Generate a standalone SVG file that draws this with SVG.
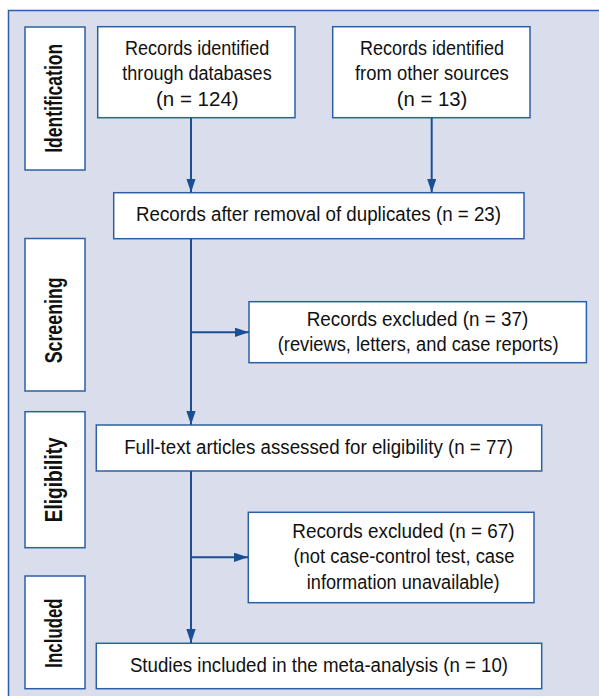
<svg xmlns="http://www.w3.org/2000/svg" width="599" height="696" viewBox="0 0 599 696">
<defs>
<style>
.bg{fill:#dadeec;stroke:#2c5fa5;stroke-width:1.5}
.box{fill:#ffffff;stroke:#2c5fa5;stroke-width:1.5}
.t{font-family:"Liberation Sans",Arial,sans-serif;font-size:20px;fill:#111;text-anchor:middle}
.s{font-family:"Liberation Sans",Arial,sans-serif;font-size:23px;font-weight:bold;fill:#111;text-anchor:middle}
.c{fill:none;stroke:#1b4f94;stroke-width:2}
</style>
<marker id="ah" markerUnits="userSpaceOnUse" markerWidth="14" markerHeight="10" refX="14" refY="4.7" orient="auto">
<path d="M0,0 L14,4.7 L0,9.4 Z" fill="#1b4f94"/>
</marker>
</defs>
<rect class="bg" x="8.5" y="10.5" width="620" height="720"/>
<g id="stage-identification">
<rect class="box" x="25" y="27" width="60" height="143"/>
<text class="s" transform="translate(62,98.3) rotate(-90)" textLength="109" lengthAdjust="spacingAndGlyphs">Identification</text>
</g>
<g id="stage-screening">
<rect class="box" x="25" y="238.5" width="60" height="152.5"/>
<text class="s" transform="translate(62,320.3) rotate(-90)" textLength="86" lengthAdjust="spacingAndGlyphs">Screening</text>
</g>
<g id="stage-eligibility">
<rect class="box" x="25" y="411.7" width="60" height="136"/>
<text class="s" transform="translate(62,479.8) rotate(-90)" textLength="85" lengthAdjust="spacingAndGlyphs">Eligibility</text>
</g>
<g id="stage-included">
<rect class="box" x="25" y="576" width="60" height="112.7"/>
<text class="s" transform="translate(62,633) rotate(-90)" textLength="69.3" lengthAdjust="spacingAndGlyphs">Included</text>
</g>
<g id="n-databases">
<rect class="box" x="97.7" y="26.7" width="197.3" height="91"/>
<text class="t" x="197.2" y="54.5" textLength="144.3" lengthAdjust="spacingAndGlyphs">Records identified</text>
<text class="t" x="197" y="80" textLength="149.3" lengthAdjust="spacingAndGlyphs">through databases</text>
<text class="t" x="197.3" y="105.5" textLength="82.7" lengthAdjust="spacingAndGlyphs">(n = 124)</text>
</g>
<g id="n-other">
<rect class="box" x="332.7" y="26.7" width="197.3" height="91"/>
<text class="t" x="432" y="54.5" textLength="144" lengthAdjust="spacingAndGlyphs">Records identified</text>
<text class="t" x="431.8" y="80" textLength="153.7" lengthAdjust="spacingAndGlyphs">from other sources</text>
<text class="t" x="432" y="105.5" textLength="70.7" lengthAdjust="spacingAndGlyphs">(n = 13)</text>
</g>
<g id="n-duplicates">
<rect class="box" x="113.7" y="192.7" width="410.3" height="46"/>
<text class="t" x="318.5" y="221.3" textLength="365" lengthAdjust="spacingAndGlyphs">Records after removal of duplicates (n = 23)</text>
</g>
<g id="n-excluded1">
<rect class="box" x="249" y="301.7" width="337.4" height="61"/>
<text class="t" x="417.5" y="325.5" textLength="221.6" lengthAdjust="spacingAndGlyphs">Records excluded (n = 37)</text>
<text class="t" x="418.1" y="350.5" textLength="280.8" lengthAdjust="spacingAndGlyphs">(reviews, letters, and case reports)</text>
</g>
<g id="n-fulltext">
<rect class="box" x="96.3" y="425" width="445.4" height="46"/>
<text class="t" x="318.6" y="453.5" textLength="388.9" lengthAdjust="spacingAndGlyphs">Full-text articles assessed for eligibility (n = 77)</text>
</g>
<g id="n-excluded2">
<rect class="box" x="248.3" y="512.3" width="285.7" height="90.4"/>
<text class="t" x="403.4" y="537.5" textLength="222.3" lengthAdjust="spacingAndGlyphs">Records excluded (n = 67)</text>
<text class="t" x="404" y="563.3" textLength="221.1" lengthAdjust="spacingAndGlyphs">(not case-control test, case</text>
<text class="t" x="403.2" y="588.5" textLength="192.9" lengthAdjust="spacingAndGlyphs">information unavailable)</text>
</g>
<g id="n-included">
<rect class="box" x="96.3" y="643.3" width="445.4" height="45.4"/>
<text class="t" x="319" y="671.7" textLength="378.2" lengthAdjust="spacingAndGlyphs">Studies included in the meta-analysis (n = 10)</text>
</g>
<g id="connectors">
<line class="c" x1="191" y1="117.7" x2="191" y2="192.5" marker-end="url(#ah)"/>
<line class="c" x1="431.7" y1="117.7" x2="431.7" y2="192.5" marker-end="url(#ah)"/>
<line class="c" x1="191" y1="238.7" x2="191" y2="424.8" marker-end="url(#ah)"/>
<line class="c" x1="191" y1="332.3" x2="248.8" y2="332.3" marker-end="url(#ah)"/>
<line class="c" x1="191" y1="471" x2="191" y2="643" marker-end="url(#ah)"/>
<line class="c" x1="191" y1="557.3" x2="248" y2="557.3" marker-end="url(#ah)"/>
</g>
</svg>
